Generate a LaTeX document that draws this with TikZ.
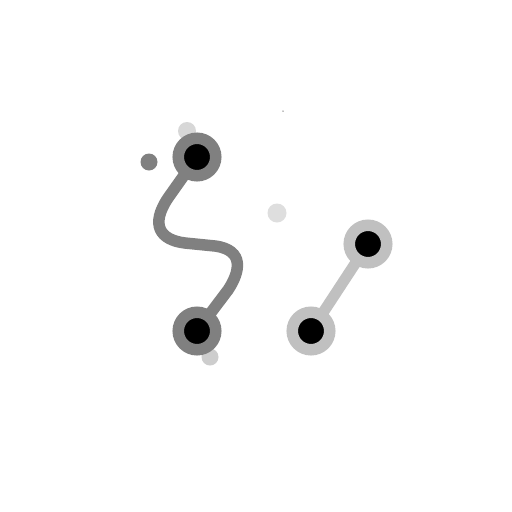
\documentclass[tikz,border=0pt]{standalone}
\usetikzlibrary{backgrounds}
\definecolor{darkring}{RGB}{128,128,128}
\definecolor{lightring}{RGB}{192,192,192}
\definecolor{dotA}{RGB}{128,128,128}
\definecolor{dotB}{RGB}{215,215,215}
\definecolor{dotC}{RGB}{222,222,222}
\definecolor{dotD}{RGB}{205,205,205}
\tikzset{
  darknode/.style={circle, fill=black, draw=darkring, line width=11.5pt, minimum size=37.5pt, inner sep=0pt},
  lightnode/.style={circle, fill=black, draw=lightring, line width=11.5pt, minimum size=37.5pt, inner sep=0pt},
  darklink/.style={draw=darkring, line width=11.5pt},
  lightlink/.style={draw=lightring, line width=11pt},
  blob/.style={circle, inner sep=0pt, draw=none}
}
\begin{document}
\begin{tikzpicture}[x=1pt,y=-1pt]
\useasboundingbox (0,0) rectangle (512,512);
% small dots
\node[blob, fill=dotB, minimum size=18pt] (b1) at (187,131) {};
\node[blob, fill=dotA, minimum size=17pt] (b2) at (149,162) {};
\node[blob, fill=dotC, minimum size=19pt] (b3) at (277,213) {};
\node[blob, fill=dotD, minimum size=17pt] (b4) at (210,357) {};
\node[blob, fill=darkring, minimum size=1.5pt] (b5) at (283,111) {};
% nodes
\node[darknode] (a1) at (197,157) {};
\node[darknode] (a2) at (197,331) {};
\node[lightnode] (c1) at (368,244) {};
\node[lightnode] (c2) at (311,331) {};
\begin{scope}[on background layer]
\fill[white] (0,0) rectangle (512,512);
\coordinate (p1) at (168,198);
\coordinate (p2) at (185,243);
\coordinate (p3) at (215,246);
\coordinate (p4) at (228,290);
\draw[darklink] (a1.center) -- (p1) .. controls (150,225) and (160,240) .. (p2) -- (p3) .. controls (245,250) and (240,272) .. (p4) -- (a2.center);
\draw[lightlink] (c1.center) -- (c2.center);
\end{scope}
\end{tikzpicture}
\end{document}
